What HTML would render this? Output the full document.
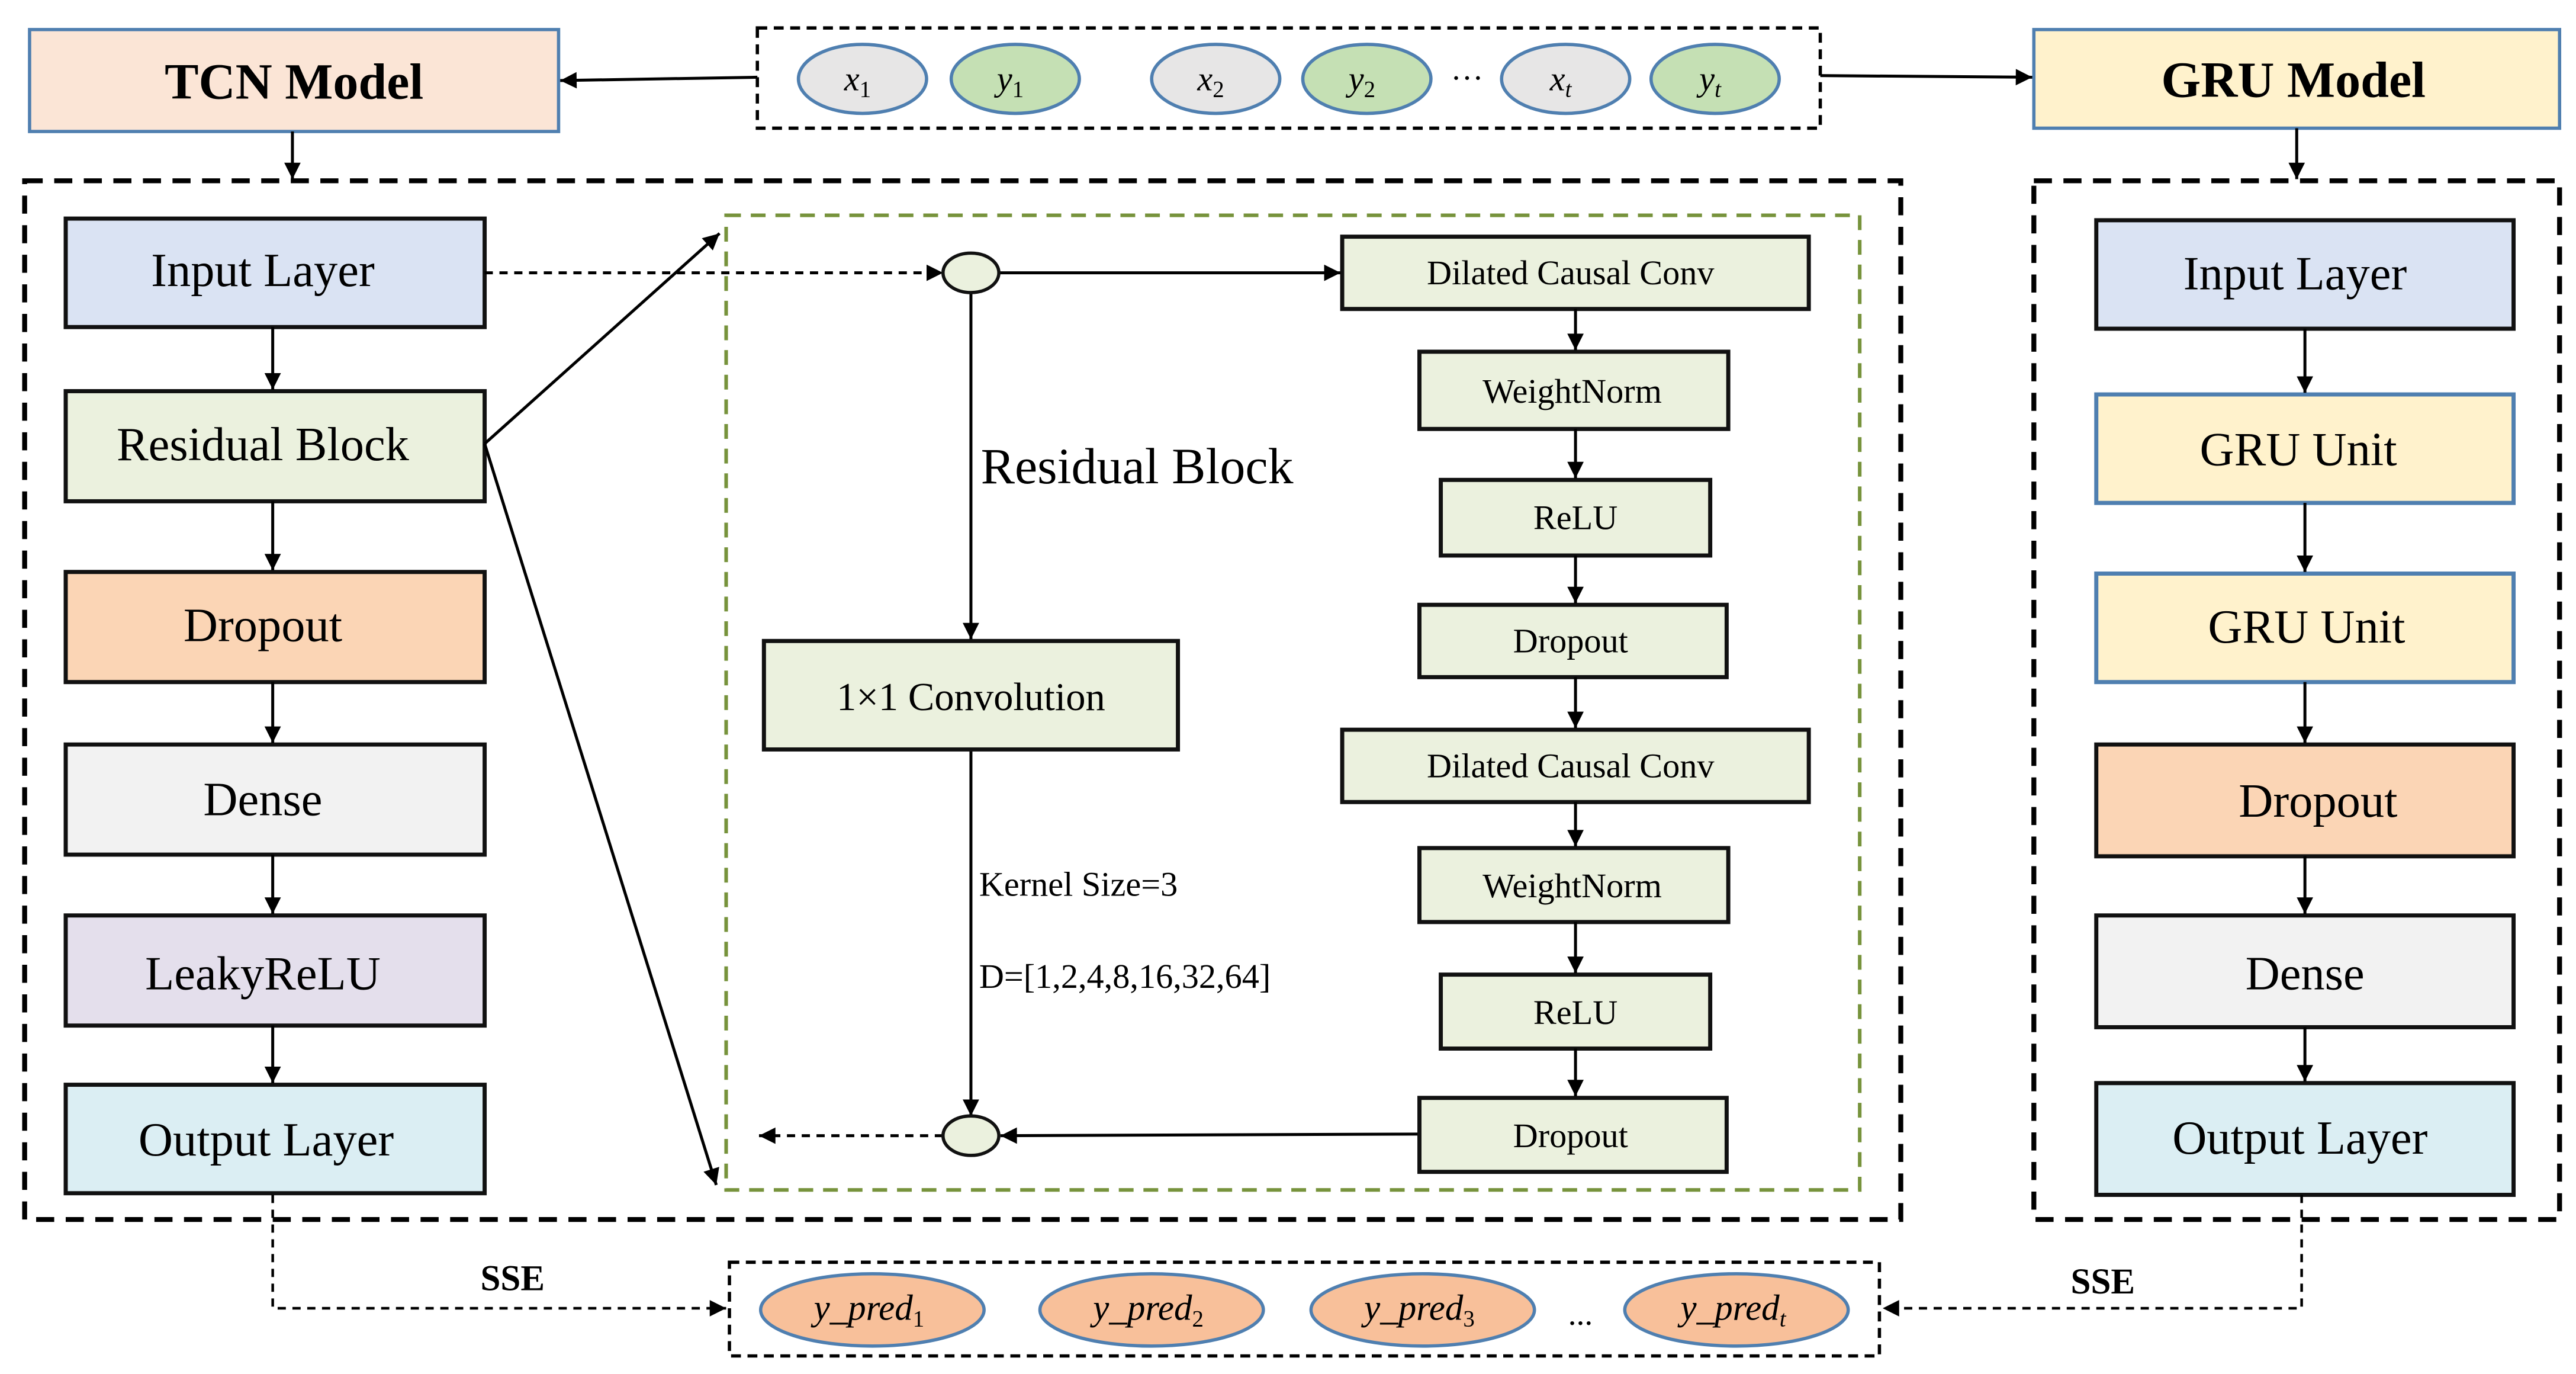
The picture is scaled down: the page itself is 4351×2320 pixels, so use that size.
<!DOCTYPE html>
<html><head><meta charset="utf-8"><style>
html,body{margin:0;padding:0;background:#fff;}
svg{display:block;}
text{font-family:"Liberation Serif",serif;fill:#000;}
</style></head><body>
<svg width="4351" height="2320" viewBox="0 0 1568 836" preserveAspectRatio="none" xmlns="http://www.w3.org/2000/svg">
<defs>
<marker id="a" viewBox="0 0 10 10" refX="10" refY="5" markerWidth="11" markerHeight="10" orient="auto-start-reverse" markerUnits="userSpaceOnUse"><path d="M0,0 L10,5 L0,10 z" fill="#000"/></marker>
</defs>
<rect x="18" y="18" width="322" height="62" fill="#fbe5d6" stroke="#4f7fb0" stroke-width="2"/>
<text x="179" y="60" font-size="31" font-weight="bold" text-anchor="middle">TCN Model</text>
<rect x="1238" y="18" width="320" height="60" fill="#fff2cc" stroke="#4f7fb0" stroke-width="2"/>
<text x="1396" y="59" font-size="31" font-weight="bold" text-anchor="middle">GRU Model</text>
<rect x="461" y="17" width="647" height="61" fill="none" stroke="#000" stroke-width="2" stroke-dasharray="6,4"/>
<g stroke="#4f7fb0" stroke-width="2">
<ellipse cx="525" cy="48" rx="39" ry="21" fill="#e7e6e6"/>
<ellipse cx="618" cy="48" rx="39" ry="21" fill="#c5e0b4"/>
<ellipse cx="740" cy="48" rx="39" ry="21" fill="#e7e6e6"/>
<ellipse cx="832" cy="48" rx="39" ry="21" fill="#c5e0b4"/>
<ellipse cx="953" cy="48" rx="39" ry="21" fill="#e7e6e6"/>
<ellipse cx="1044" cy="48" rx="39" ry="21" fill="#c5e0b4"/>
</g>
<g font-size="21" font-style="italic" text-anchor="middle">
<text x="522" y="55">x<tspan font-size="14" dy="4" font-style="normal">1</tspan></text>
<text x="615" y="55">y<tspan font-size="14" dy="4" font-style="normal">1</tspan></text>
<text x="737" y="55">x<tspan font-size="14" dy="4" font-style="normal">2</tspan></text>
<text x="829" y="55">y<tspan font-size="14" dy="4" font-style="normal">2</tspan></text>
<text x="950" y="55">x<tspan font-size="14" dy="4">t</tspan></text>
<text x="1041" y="55">y<tspan font-size="14" dy="4">t</tspan></text>
</g>
<text x="893" y="54" font-size="20" text-anchor="middle">···</text>
<g stroke="#000" stroke-width="1.8" fill="none">
<line x1="461" y1="47" x2="341" y2="49" marker-end="url(#a)"/>
<line x1="1108" y1="46" x2="1237" y2="47" marker-end="url(#a)"/>
<line x1="178" y1="80" x2="178" y2="109" marker-end="url(#a)"/>
<line x1="1398" y1="78" x2="1398" y2="109" marker-end="url(#a)"/>
</g>
<rect x="15" y="110" width="1142" height="632" fill="none" stroke="#000" stroke-width="3" stroke-dasharray="11,7"/>
<rect x="1238" y="110" width="320" height="632" fill="none" stroke="#000" stroke-width="3" stroke-dasharray="11,7"/>
<rect x="442" y="131" width="690" height="593" fill="none" stroke="#77933c" stroke-width="2.2" stroke-dasharray="9,6"/>
<g stroke="#111" stroke-width="2.5">
<rect x="40" y="133" width="255" height="66" fill="#dae3f3"/>
<rect x="40" y="238" width="255" height="67" fill="#ebf1de"/>
<rect x="40" y="348" width="255" height="67" fill="#fbd5b5"/>
<rect x="40" y="453" width="255" height="67" fill="#f2f2f2"/>
<rect x="40" y="557" width="255" height="67" fill="#e4dfec"/>
<rect x="40" y="660" width="255" height="66" fill="#dbeef3"/>
</g>
<g font-size="29" text-anchor="middle">
<text x="160" y="174">Input Layer</text>
<text x="160" y="280">Residual Block</text>
<text x="160" y="390">Dropout</text>
<text x="160" y="496">Dense</text>
<text x="160" y="602">LeakyReLU</text>
<text x="162" y="703">Output Layer</text>
</g>
<g stroke="#000" stroke-width="1.8" fill="none">
<line x1="166" y1="199" x2="166" y2="237" marker-end="url(#a)"/>
<line x1="166" y1="305" x2="166" y2="347" marker-end="url(#a)"/>
<line x1="166" y1="415" x2="166" y2="452" marker-end="url(#a)"/>
<line x1="166" y1="520" x2="166" y2="556" marker-end="url(#a)"/>
<line x1="166" y1="624" x2="166" y2="659" marker-end="url(#a)"/>
<line x1="295" y1="270" x2="438" y2="142" marker-end="url(#a)"/>
<line x1="295" y1="270" x2="436" y2="721" marker-end="url(#a)"/>
<line x1="295" y1="166" x2="574" y2="166" stroke-dasharray="5,4" marker-end="url(#a)"/>
<line x1="608" y1="166" x2="816" y2="166" marker-end="url(#a)"/>
<line x1="591" y1="178" x2="591" y2="389" marker-end="url(#a)"/>
<line x1="591" y1="456" x2="591" y2="679" marker-end="url(#a)"/>
<line x1="864" y1="690" x2="609" y2="691" marker-end="url(#a)"/>
<line x1="574" y1="691" x2="462" y2="691" stroke-dasharray="5,4" marker-end="url(#a)"/>
</g>
<ellipse cx="591" cy="166" rx="17" ry="12" fill="#ebf1de" stroke="#111" stroke-width="2"/>
<ellipse cx="591" cy="691" rx="17" ry="12" fill="#ebf1de" stroke="#111" stroke-width="2"/>
<g stroke="#111" stroke-width="2.5" fill="#ebf1de">
<rect x="465" y="390" width="252" height="66"/>
<rect x="817" y="144" width="284" height="44"/>
<rect x="864" y="214" width="188" height="47"/>
<rect x="877" y="292" width="164" height="46"/>
<rect x="864" y="368" width="187" height="44"/>
<rect x="817" y="444" width="284" height="44"/>
<rect x="864" y="516" width="188" height="45"/>
<rect x="877" y="593" width="164" height="45"/>
<rect x="864" y="668" width="187" height="45"/>
</g>
<g stroke="#000" stroke-width="1.8">
<line x1="959" y1="188" x2="959" y2="213" marker-end="url(#a)"/>
<line x1="959" y1="261" x2="959" y2="291" marker-end="url(#a)"/>
<line x1="959" y1="338" x2="959" y2="367" marker-end="url(#a)"/>
<line x1="959" y1="412" x2="959" y2="443" marker-end="url(#a)"/>
<line x1="959" y1="488" x2="959" y2="515" marker-end="url(#a)"/>
<line x1="959" y1="561" x2="959" y2="592" marker-end="url(#a)"/>
<line x1="959" y1="638" x2="959" y2="667" marker-end="url(#a)"/>
</g>
<g font-size="21" text-anchor="middle">
<text x="956" y="173">Dilated Causal Conv</text>
<text x="957" y="245">WeightNorm</text>
<text x="959" y="322">ReLU</text>
<text x="956" y="397">Dropout</text>
<text x="956" y="473">Dilated Causal Conv</text>
<text x="957" y="546">WeightNorm</text>
<text x="959" y="623">ReLU</text>
<text x="956" y="698">Dropout</text>
</g>
<text x="591" y="432" font-size="24" text-anchor="middle">1×1 Convolution</text>
<text x="597" y="294" font-size="31">Residual Block</text>
<text x="596" y="545" font-size="21">Kernel Size=3</text>
<text x="596" y="601" font-size="21">D=[1,2,4,8,16,32,64]</text>
<g stroke-width="2.5">
<rect x="1276" y="134" width="254" height="66" fill="#dae3f3" stroke="#111"/>
<rect x="1276" y="240" width="254" height="66" fill="#fff2cc" stroke="#4f7fb0"/>
<rect x="1276" y="349" width="254" height="66" fill="#fff2cc" stroke="#4f7fb0"/>
<rect x="1276" y="453" width="254" height="68" fill="#fbd5b5" stroke="#111"/>
<rect x="1276" y="557" width="254" height="68" fill="#f2f2f2" stroke="#111"/>
<rect x="1276" y="659" width="254" height="68" fill="#dbeef3" stroke="#111"/>
</g>
<g font-size="29" text-anchor="middle">
<text x="1397" y="176">Input Layer</text>
<text x="1399" y="283">GRU Unit</text>
<text x="1404" y="391">GRU Unit</text>
<text x="1411" y="497">Dropout</text>
<text x="1403" y="602">Dense</text>
<text x="1400" y="702">Output Layer</text>
</g>
<g stroke="#000" stroke-width="1.8">
<line x1="1403" y1="200" x2="1403" y2="239" marker-end="url(#a)"/>
<line x1="1403" y1="306" x2="1403" y2="348" marker-end="url(#a)"/>
<line x1="1403" y1="415" x2="1403" y2="452" marker-end="url(#a)"/>
<line x1="1403" y1="521" x2="1403" y2="556" marker-end="url(#a)"/>
<line x1="1403" y1="625" x2="1403" y2="658" marker-end="url(#a)"/>
</g>
<rect x="444" y="768" width="700" height="57" fill="none" stroke="#000" stroke-width="2" stroke-dasharray="6,4"/>
<g stroke="#4f7fb0" stroke-width="2" fill="#f8c09a">
<ellipse cx="531" cy="797" rx="68" ry="22"/>
<ellipse cx="701" cy="797" rx="68" ry="22"/>
<ellipse cx="866" cy="797" rx="68" ry="22"/>
<ellipse cx="1057" cy="797" rx="68" ry="22"/>
</g>
<g font-size="22" font-style="italic" text-anchor="middle">
<text x="529" y="803">y_pred<tspan font-size="14" dy="4" font-style="normal">1</tspan></text>
<text x="699" y="803">y_pred<tspan font-size="14" dy="4" font-style="normal">2</tspan></text>
<text x="864" y="803">y_pred<tspan font-size="14" dy="4" font-style="normal">3</tspan></text>
<text x="1055" y="803">y_pred<tspan font-size="14" dy="4">t</tspan></text>
</g>
<text x="962" y="806" font-size="20" text-anchor="middle">...</text>
<g stroke="#000" stroke-width="1.6" fill="none" stroke-dasharray="5,4">
<polyline points="166,727 166,796 442,796" marker-end="url(#a)"/>
<polyline points="1401,727 1401,796 1146,796" marker-end="url(#a)"/>
</g>
<text x="312" y="785" font-size="22" font-weight="bold" text-anchor="middle">SSE</text>
<text x="1280" y="787" font-size="22" font-weight="bold" text-anchor="middle">SSE</text>
</svg>
</body></html>
